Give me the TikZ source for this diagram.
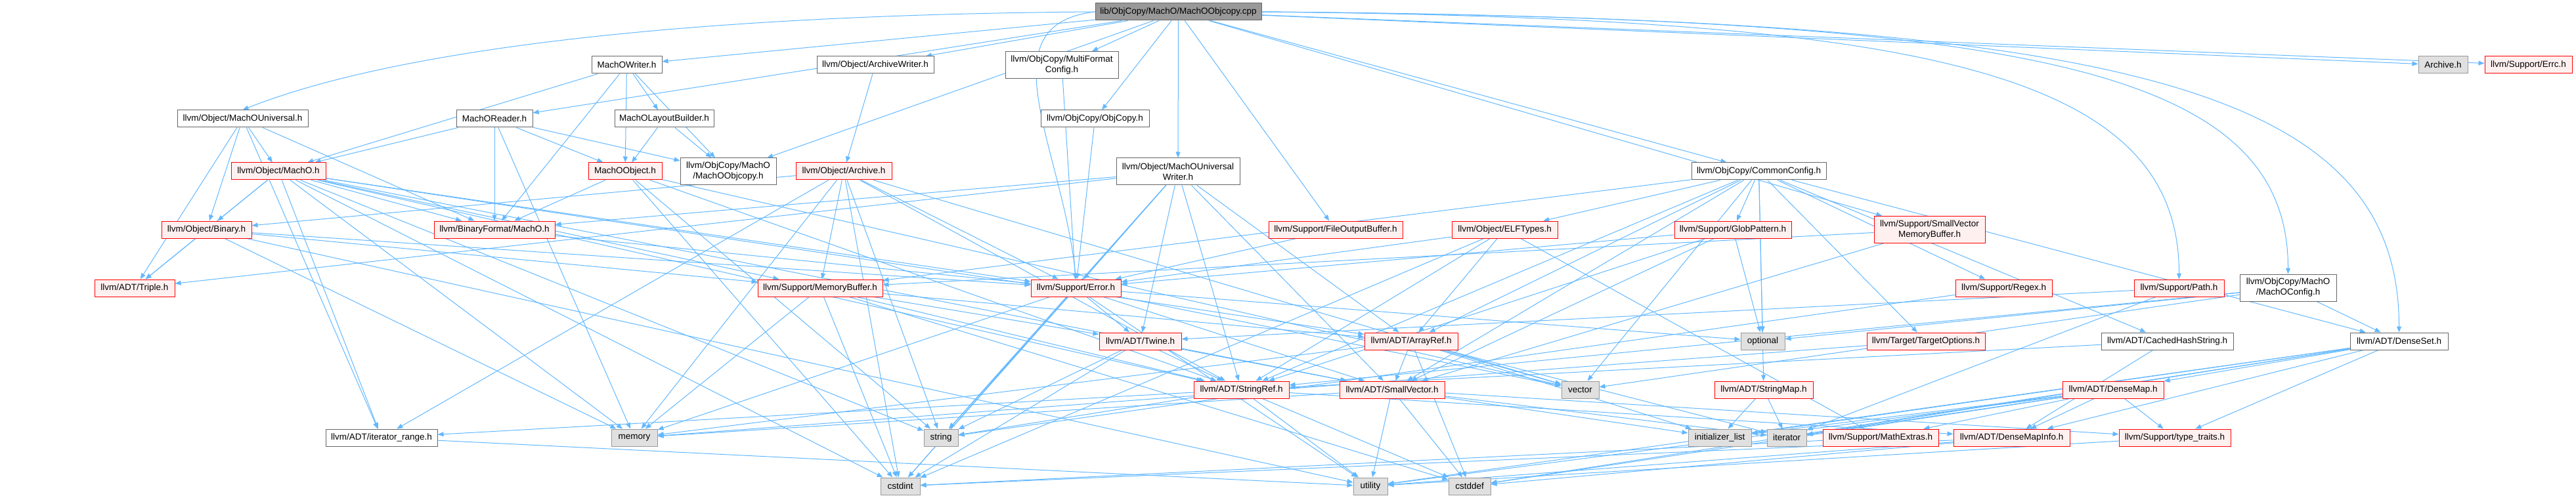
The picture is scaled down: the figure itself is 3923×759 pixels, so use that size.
\documentclass[tikz,border=0pt]{standalone}
\usepackage{fontspec}
\setmainfont{Liberation Sans}
\usetikzlibrary{arrows.meta, backgrounds}
\definecolor{depblue}{HTML}{63B8FF}
\definecolor{boxframe}{HTML}{666666}
\definecolor{mainfill}{HTML}{999999}
\definecolor{sysfill}{HTML}{E0E0E0}
\definecolor{sysframe}{HTML}{999999}
\definecolor{redframe}{HTML}{FF0000}
\definecolor{redfill}{HTML}{FFF0F0}

\begin{document}
\begin{tikzpicture}[
  x=1pt, y=1pt,
  hdr/.style={minimum height=26pt, inner sep=0pt, align=center, line width=1pt,
              font=\fontsize{13.5}{16}\selectfont},
  twoline/.style={minimum height=41pt},
  mainfile/.style={hdr, draw=boxframe, fill=mainfill},
  hfile/.style={hdr, draw=boxframe, fill=white},
  redhdr/.style={hdr, draw=redframe, fill=redfill},
  syshdr/.style={hdr, draw=sysframe, fill=sysfill},
  dep/.style={-{Stealth[length=9pt, width=7pt, inset=0pt]}, line width=1pt, depblue}
]
  \useasboundingbox (0,0) rectangle (3923,-759);

  % Source file
  \node[mainfile, minimum width=253pt] (main) at (1794.5,-18) {lib/ObjCopy/MachO/MachOObjcopy.cpp};

  % Direct includes
  \node[hfile, minimum width=107pt] (machowriter) at (954.5,-99) {MachOWriter.h};
  \node[hfile, minimum width=178pt] (archwriter) at (1333,-99) {llvm/Object/ArchiveWriter.h};
  \node[hfile, twoline, minimum width=172pt] (multiformat) at (1617,-99) {llvm/ObjCopy/MultiFormat\\Config.h};
  \node[syshdr, minimum width=75pt] (archivesys) at (3720.5,-99) {Archive.h};
  \node[redhdr, minimum width=133pt] (errc) at (3850.5,-99) {llvm/Support/Errc.h};

  \node[hfile, minimum width=199pt] (universal) at (369.5,-181) {llvm/Object/MachOUniversal.h};
  \node[hfile, minimum width=116pt] (machoreader) at (753,-181) {MachOReader.h};
  \node[hfile, minimum width=151pt] (layout) at (1011.5,-181) {MachOLayoutBuilder.h};
  \node[hfile, minimum width=165pt] (objcopy) at (1667.5,-181) {llvm/ObjCopy/ObjCopy.h};

  \node[redhdr, minimum width=144pt] (macho) at (424,-261) {llvm/Object/MachO.h};
  \node[redhdr, minimum width=112pt] (machoobject) at (952,-261) {MachOObject.h};
  \node[hfile, twoline, minimum width=146pt] (machoobjcopy) at (1109,-261.5) {llvm/ObjCopy/MachO\\/MachOObjcopy.h};
  \node[redhdr, minimum width=146pt] (archive) at (1285,-261) {llvm/Object/Archive.h};
  \node[hfile, twoline, minimum width=188pt] (univwriter) at (1794,-261.5) {llvm/Object/MachOUniversal\\Writer.h};
  \node[hfile, minimum width=205pt] (commonconfig) at (2678.5,-261) {llvm/ObjCopy/CommonConfig.h};

  % Second level
  \node[redhdr, minimum width=137pt] (binary) at (314.5,-350) {llvm/Object/Binary.h};
  \node[redhdr, minimum width=184pt] (binfmt) at (753,-350) {llvm/BinaryFormat/MachO.h};
  \node[redhdr, minimum width=204pt] (fileoutbuf) at (2034,-350) {llvm/Support/FileOutputBuffer.h};
  \node[redhdr, minimum width=161pt] (elftypes) at (2291.5,-350) {llvm/Object/ELFTypes.h};
  \node[redhdr, minimum width=178pt] (globpattern) at (2639,-350) {llvm/Support/GlobPattern.h};
  \node[redhdr, twoline, minimum width=169pt] (smallvecmembuf) at (2938.5,-350) {llvm/Support/SmallVector\\MemoryBuffer.h};

  \node[redhdr, minimum width=122pt] (triple) at (205,-439) {llvm/ADT/Triple.h};
  \node[redhdr, minimum width=190pt] (membuf) at (1249,-439) {llvm/Support/MemoryBuffer.h};
  \node[redhdr, minimum width=137pt] (error) at (1638.5,-439) {llvm/Support/Error.h};
  \node[redhdr, minimum width=147pt] (regex) at (3051.5,-439) {llvm/Support/Regex.h};
  \node[redhdr, minimum width=137pt] (path) at (3318.5,-439) {llvm/Support/Path.h};
  \node[hfile, twoline, minimum width=147pt] (machoconfig) at (3484.5,-438.5) {llvm/ObjCopy/MachO\\/MachOConfig.h};

  % ADT level
  \node[redhdr, minimum width=125pt] (twine) at (1736.5,-520) {llvm/ADT/Twine.h};
  \node[redhdr, minimum width=142pt] (arrayref) at (2149,-520) {llvm/ADT/ArrayRef.h};
  \node[syshdr, minimum width=67pt] (optional) at (2684.5,-520) {optional};
  \node[redhdr, minimum width=180pt] (targetopts) at (2933,-520) {llvm/Target/TargetOptions.h};
  \node[hfile, minimum width=201pt] (cachedhash) at (3300.5,-520) {llvm/ADT/CachedHashString.h};
  \node[hfile, minimum width=149pt] (denseset) at (3653.5,-520) {llvm/ADT/DenseSet.h};

  \node[redhdr, minimum width=145pt] (stringref) at (1890.5,-594) {llvm/ADT/StringRef.h};
  \node[redhdr, minimum width=160pt] (smallvector) at (2120,-594) {llvm/ADT/SmallVector.h};
  \node[syshdr, minimum width=57pt] (vector) at (2406.5,-594) {vector};
  \node[redhdr, minimum width=150pt] (stringmap) at (2686,-594) {llvm/ADT/StringMap.h};
  \node[redhdr, minimum width=154pt] (densemap) at (3218,-594) {llvm/ADT/DenseMap.h};

  \node[hfile, minimum width=170pt] (iterrange) at (581,-667) {llvm/ADT/iterator\_range.h};
  \node[syshdr, minimum width=70pt] (memory) at (966,-667) {memory};
  \node[syshdr, minimum width=52pt] (string) at (1433,-667) {string};
  \node[syshdr, minimum width=96pt] (initlist) at (2619,-667) {initializer\_list};
  \node[syshdr, minimum width=60pt] (iterator) at (2721,-667) {iterator};
  \node[redhdr, minimum width=176pt] (mathextras) at (2864,-667) {llvm/Support/MathExtras.h};
  \node[redhdr, minimum width=177pt] (densemapinfo) at (3063.5,-667) {llvm/ADT/DenseMapInfo.h};
  \node[redhdr, minimum width=170pt] (typetraits) at (3312,-667) {llvm/Support/type\_traits.h};

  \node[syshdr, minimum width=60pt] (cstdint) at (1371,-741) {cstdint};
  \node[syshdr, minimum width=52pt] (utility) at (2087,-741) {utility};
  \node[syshdr, minimum width=64pt] (cstddef) at (2238,-741) {cstddef};

  % Include edges
  \begin{scope}[on background layer]
    \foreach \src/\dsts in {
      main/{machowriter,archwriter,multiformat,objcopy,machoreader,machoobjcopy,
            univwriter,commonconfig,fileoutbuf,smallvecmembuf,archivesys,errc},
      machowriter/{layout,machoobject,binfmt,machoobjcopy,macho},
      machoreader/{machoobject,binfmt,machoobjcopy,macho,memory},
      layout/{machoobject,machoobjcopy},
      universal/{triple,iterrange,binfmt,binary,macho},
      archwriter/{archive},
      multiformat/{error},
      objcopy/{error},
      macho/{arrayref,smallvector,stringref,triple,iterrange,binfmt,binary,error,membuf,cstdint,memory,string},
      machoobject/{stringref,binfmt,cstdint,string,vector},
      archive/{stringref,iterrange,binary,error,membuf,cstdint,memory,string,vector},
      univwriter/{arrayref,smallvector,stringref,twine,binfmt,error,triple,cstdint,string},
      commonconfig/{arrayref,cachedhash,denseset,smallvector,stringmap,stringref,elftypes,globpattern,
                    membuf,regex,targetopts,optional,vector},
      binary/{triple,error,membuf,memory,utility},
      binfmt/{error},
      fileoutbuf/{error},
      elftypes/{arrayref,stringref,error,mathextras,cstdint},
      globpattern/{smallvector,stringref,error,optional},
      smallvecmembuf/{smallvector,membuf},
      membuf/{arrayref,stringref,twine,cstddef,cstdint,memory},
      error/{smallvector,twine,cstdint,memory,optional,string,utility,vector},
      regex/{string},
      path/{twine,iterator},
      machoconfig/{denseset,stringref,optional,vector},
      twine/{smallvector,stringref,cstdint,string},
      arrayref/{smallvector,cstddef,initlist,iterator,memory,vector},
      targetopts/{memory},
      cachedhash/{densemapinfo,stringref},
      denseset/{densemap,densemapinfo,typetraits,cstddef,initlist,iterator,utility},
      stringref/{densemapinfo,iterrange,cstddef,string,utility},
      smallvector/{typetraits,cstddef,initlist,iterator,memory,utility},
      stringmap/{initlist,iterator},
      densemap/{densemapinfo,mathextras,typetraits,cstddef,initlist,iterator,utility},
      densemapinfo/{cstddef,cstdint,utility},
      mathextras/{cstdint},
      typetraits/{utility},
      iterrange/{utility}}
    {
      \foreach \dst in \dsts
        \draw[dep] (\src) -- (\dst);
    }

    % long ones from the source file
    \draw[dep] (main.west) .. controls +(-700,-5) and +(200,80) .. (universal.north);
    \draw[dep] (main.west) .. controls +(-170,-20) and +(-20,200) .. (error.north);
    \draw[dep] (main.east) .. controls +(1000,-10) and +(0,320) .. (path.north);
    \draw[dep] (main.east) .. controls +(1150,-10) and +(0,320) .. (machoconfig.north);
    \draw[dep] (main.east) .. controls +(1300,-10) and +(0,380) .. (denseset.north);
  \end{scope}
\end{tikzpicture}
\end{document}
